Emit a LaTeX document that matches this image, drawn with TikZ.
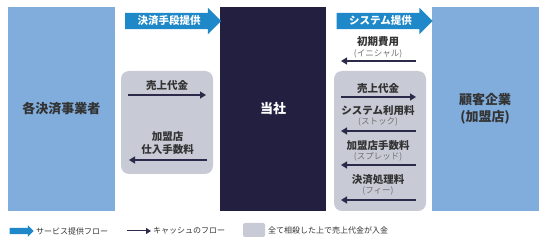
\documentclass[tikz,border=0pt]{standalone}
\usepackage{fontspec}
\setmainfont{Noto Sans CJK JP}
\usetikzlibrary{arrows.meta,positioning,calc,shapes.arrows}
\definecolor{sideblue}{HTML}{80ADDC}
\definecolor{corenavy}{HTML}{231F40}
\definecolor{flowblue}{HTML}{1E88C9}
\definecolor{netgray}{HTML}{C8CBD6}
\definecolor{cashline}{HTML}{2C2A4A}
\definecolor{labeltext}{HTML}{333333}
\definecolor{subtext}{HTML}{707070}
\tikzset{
  sidebox/.style={fill=sideblue, minimum width=107pt, minimum height=204pt,
                  align=center, text=labeltext, font=\fontsize{13}{17}\selectfont\bfseries},
  corebox/.style={fill=corenavy, minimum width=106pt, minimum height=204pt,
                  text=white, font=\fontsize{13}{17}\selectfont\bfseries},
  netbox/.style={fill=netgray, rounded corners=8pt, minimum width=92pt},
  svcarrow/.style={single arrow, fill=flowblue, text=white, minimum height=96pt,
                   single arrow head extend=5pt, single arrow head indent=0pt,
                   text height=8pt, text depth=1.5pt, inner ysep=3.25pt,
                   font=\fontsize{10.5}{12}\selectfont\bfseries},
  cashlbl/.style={text=labeltext, inner sep=0pt, align=center,
                  font=\fontsize{10.5}{13}\selectfont\bfseries},
  sublbl/.style={text=subtext, inner sep=0pt, font=\fontsize{8.5}{9}\selectfont},
  keytext/.style={text=labeltext, inner sep=0pt, anchor=west, font=\fontsize{8}{9}\selectfont},
  cash/.style={-{Triangle[length=6pt,width=7pt]}, line width=1.2pt, color=cashline}}
\begin{document}
\begin{tikzpicture}[x=1pt,y=-1pt]
    \useasboundingbox (0,0) rectangle (547,243);
    % the three parties
    \node[sidebox] (payers) at (61.5,109) {各決済事業者};
    \node[corebox] (company) at (273,109) {当社};
    \node[sidebox] (client) at (485,109) {顧客企業\\(加盟店)};
    % service flow
    \node[svcarrow] (svcpay) at (169,21) {決済手段提供};
    \node[svcarrow] (svcsys) at (380.5,21) {システム提供};
    % netting areas
    \node[netbox, minimum height=103pt] (netleft) at (167,122.5) {};
    \node[netbox, minimum height=140pt] (netright) at (380,141) {};
    % left side cash
    \node[cashlbl] (salesL) at (167,86) {売上代金};
    \node[cashlbl] (feeL) at (167.5,143.5) {加盟店\\仕入手数料};
    \coordinate (salesLa) at (128,95);
    \coordinate (salesLb) at (206,95);
    \coordinate (feeLa) at (207,160);
    \coordinate (feeLb) at (129,160);
    \draw[cash] (salesLa) -- (salesLb);
    \draw[cash] (feeLa) -- (feeLb);
    % right side cash
    \node[cashlbl] (initR) at (378,42) {初期費用};
    \node[sublbl, below=12pt of initR.center, anchor=center] (initRs) {(イニシャル)};
    \node[cashlbl] (salesR) at (378,89) {売上代金};
    \node[cashlbl] (stockR) at (378,111) {システム利用料};
    \node[sublbl, below=11pt of stockR.center, anchor=center] (stockRs) {(ストック)};
    \node[cashlbl] (spreadR) at (378,146) {加盟店手数料};
    \node[sublbl, below=11pt of spreadR.center, anchor=center] (spreadRs) {(スプレッド)};
    \node[cashlbl] (procR) at (378,180) {決済処理料};
    \node[sublbl, below=11pt of procR.center, anchor=center] (procRs) {(フィー)};
    \foreach \y/\nm in {61/init,131/stock,165/spread,200/proc}{
      \coordinate (\nm a) at (416,\y);
      \coordinate (\nm b) at (341,\y);
      \draw[cash] (\nm a) -- (\nm b);
    }
    \coordinate (salesRa) at (341,97);
    \coordinate (salesRb) at (416,97);
    \draw[cash] (salesRa) -- (salesRb);
    % legend
    \node[single arrow, fill=flowblue, minimum height=24pt, inner ysep=3pt, inner xsep=0pt,
          single arrow head extend=2.5pt, single arrow head indent=0pt] (keysvc) at (20,231) {};
    \node[keytext] (keysvct) at (36,231) {サービス提供フロー};
    \coordinate (keycasha) at (127,231);
    \coordinate (keycashb) at (151,231);
    \draw[cash, line width=1pt, -{Triangle[length=5pt,width=6pt]}] (keycasha) -- (keycashb);
    \node[keytext] (keycasht) at (153,231) {キャッシュのフロー};
    \node[fill=netgray, rounded corners=2pt, minimum width=22pt, minimum height=14pt,
          inner sep=0pt] (keynet) at (254,230) {};
    \node[keytext] (keynett) at (268,230) {全て相殺した上で売上代金が入金};
  \end{tikzpicture}
\end{document}
